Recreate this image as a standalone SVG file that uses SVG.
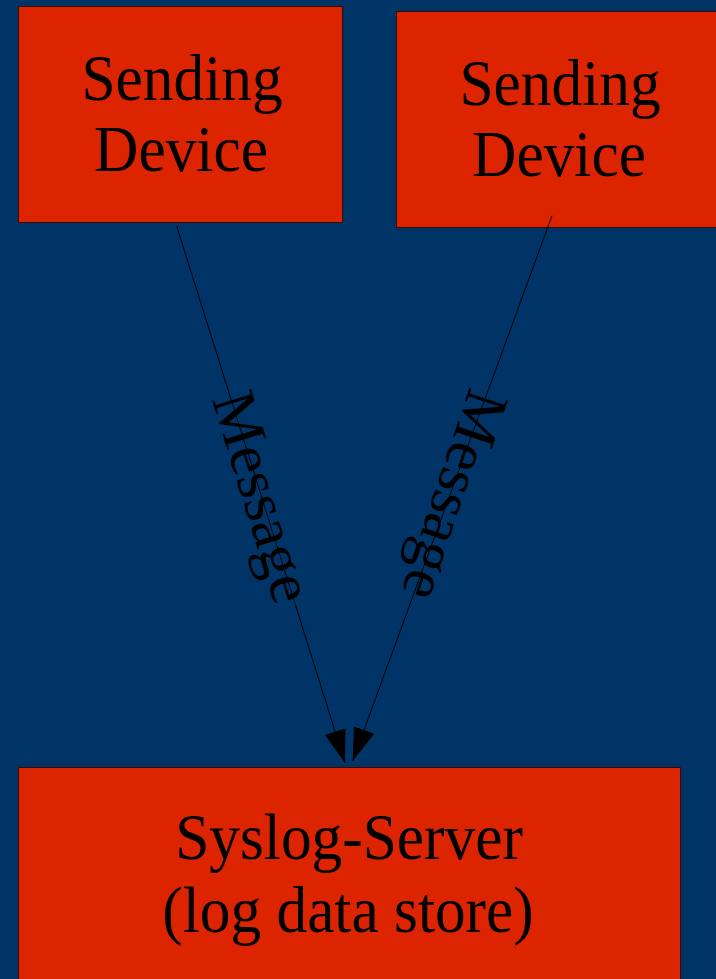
<svg xmlns="http://www.w3.org/2000/svg" width="716" height="979" viewBox="0 0 716 979">
  <style>
    .box { fill: #dc2400; stroke: #3a0a00; stroke-width: 1; }
    .label { font-family: "Liberation Serif", "Times New Roman", serif; font-size: 66px; fill: #000; text-anchor: middle; }
    .msg { font-family: "Liberation Serif", "Times New Roman", serif; font-size: 62px; fill: #000; }
    .wire { stroke: #000; stroke-width: 1; fill: none; marker-end: url(#head); }
  </style>
  <defs>
    <marker id="head" markerUnits="userSpaceOnUse" viewBox="0 -11 33 22" refX="33" refY="0" markerWidth="33" markerHeight="22" orient="auto">
      <path d="M0,-10.8 L33,0 L0,10.8 z" fill="#000"/>
    </marker>
  </defs>

  <!-- background -->
  <rect x="0" y="0" width="716" height="979" fill="#003366"/>

  <g id="sender-1">
    <rect class="box" x="18.5" y="6.5" width="324" height="216"/>
    <text class="label" transform="translate(182,100) scale(0.93,1)">Sending</text>
    <text class="label" transform="translate(181,171) scale(0.93,1)">Device</text>
  </g>

  <g id="sender-2">
    <rect class="box" x="396.5" y="11.5" width="330" height="216"/>
    <text class="label" transform="translate(560,105) scale(0.93,1)">Sending</text>
    <text class="label" transform="translate(559,176) scale(0.93,1)">Device</text>
  </g>

  <g id="syslog-server">
    <rect class="box" x="18.5" y="767.5" width="662" height="230"/>
    <text class="label" transform="translate(349,859) scale(0.93,1)">Syslog-Server</text>
    <text class="label" transform="translate(348,932) scale(0.93,1)">(log data store)</text>
  </g>

  <g id="connectors">
    <line class="wire" x1="176.7" y1="226" x2="345" y2="763"/>
    <line class="wire" x1="552" y1="215.7" x2="352.7" y2="761"/>
    <text class="msg" transform="translate(211.7,399) rotate(73)">Message</text>
    <text class="msg" transform="translate(470,386) rotate(108.5)">Message</text>
  </g>
</svg>
